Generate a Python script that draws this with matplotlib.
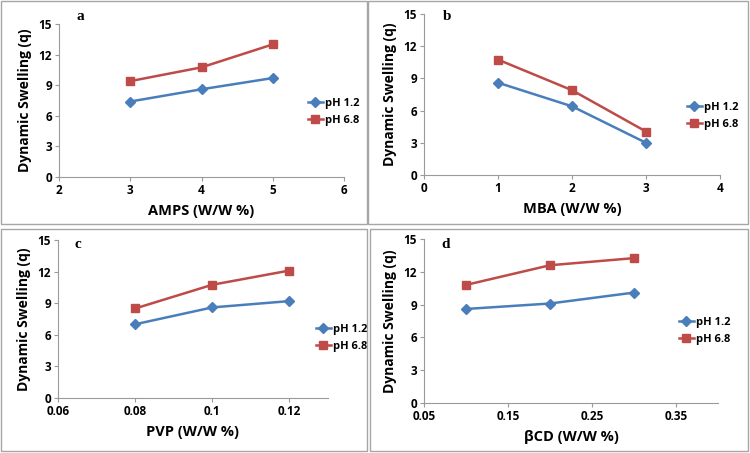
import matplotlib.pyplot as plt
from matplotlib.patches import Rectangle

# Data
amps = [3, 4, 5]
amps_ph12 = [7.4, 8.6, 9.7]
amps_ph68 = [9.4, 10.75, 13.0]

mba = [1, 2, 3]
mba_ph12 = [8.6, 6.4, 3.0]
mba_ph68 = [10.75, 7.9, 4.05]

pvp = [0.08, 0.1, 0.12]
pvp_ph12 = [7.0, 8.6, 9.2]
pvp_ph68 = [8.5, 10.75, 12.1]

bcd = [0.1, 0.2, 0.3]
bcd_ph12 = [8.6, 9.1, 10.1]
bcd_ph68 = [10.8, 12.6, 13.25]

W, H = 750, 453
BLUE = '#4A7EBB'
RED = '#BE4B48'

fig = plt.figure(figsize=(7.5, 4.53), dpi=100)
plt.rcParams['font.family'] = ['Open Sans', 'DejaVu Sans']


def frac_box(l, r, t, b):
    return [l / W, 1 - b / H, (r - l) / W, (b - t) / H]


# panel borders
for (x0, y0, x1, y1) in [(1, 1, 367, 224), (368, 1, 748, 224),
                         (1, 229, 367, 451), (370, 229, 748, 451)]:
    fig.patches.append(Rectangle((x0 / W, 1 - y1 / H), (x1 - x0) / W, (y1 - y0) / H,
                                 transform=fig.transFigure, fill=False,
                                 edgecolor='#a6a6a6', linewidth=1.0))

panels = [
    dict(box=(59, 344, 24, 177), x=amps, y1=amps_ph12, y2=amps_ph68, xlim=(2, 6),
         xticks=[2, 3, 4, 5, 6], xtl=['2', '3', '4', '5', '6'], xlabel='AMPS (W/W %)',
         letter='a', lpos=(80, 16), leg=(302, 112)),
    dict(box=(424, 720, 14, 175), x=mba, y1=mba_ph12, y2=mba_ph68, xlim=(0, 4),
         xticks=[0, 1, 2, 3, 4], xtl=['0', '1', '2', '3', '4'], xlabel='MBA (W/W %)',
         letter='b', lpos=(447, 17), leg=(681, 116)),
    dict(box=(58, 328, 240, 398), x=pvp, y1=pvp_ph12, y2=pvp_ph68, xlim=(0.06, 0.13),
         xticks=[0.06, 0.08, 0.1, 0.12], xtl=['0.06', '0.08', '0.1', '0.12'],
         xlabel='PVP (W/W %)', letter='c', lpos=(78, 245), leg=(310, 338)),
    dict(box=(424, 718, 239, 403), x=bcd, y1=bcd_ph12, y2=bcd_ph68, xlim=(0.05, 0.4),
         xticks=[0.05, 0.15, 0.25, 0.35], xtl=['0.05', '0.15', '0.25', '0.35'],
         xlabel='βCD (W/W %)', letter='d', lpos=(446, 244), leg=(673, 331)),
]

for p in panels:
    ax = fig.add_axes(frac_box(*p['box']))
    ax.plot(p['x'], p['y1'], color=BLUE, marker='D', markersize=5, linewidth=1.8, label='pH 1.2')
    ax.plot(p['x'], p['y2'], color=RED, marker='s', markersize=6, linewidth=1.8, label='pH 6.8')
    ax.set_xlim(*p['xlim'])
    ax.set_ylim(0, 15)
    ax.set_yticks([0, 3, 6, 9, 12, 15])
    ax.set_xticks(p['xticks'])
    ax.set_xticklabels(p['xtl'], fontweight='bold', fontsize=8.5)
    ax.set_yticklabels(['0', '3', '6', '9', '12', '15'], fontweight='bold', fontsize=8.5)
    for s in ['top', 'right']:
        ax.spines[s].set_visible(False)
    for s in ['left', 'bottom']:
        ax.spines[s].set_color('#9a9a9a')
        ax.spines[s].set_linewidth(0.8)
    ax.tick_params(length=3, color='#9a9a9a', pad=2)
    ax.set_xlabel(p['xlabel'], fontweight='bold', fontsize=10.5, labelpad=5)
    ax.set_ylabel('Dynamic Swelling (q)', fontweight='bold', fontsize=10, labelpad=5)
    ax.patch.set_alpha(0)
    fig.text(p['lpos'][0] / W, 1 - p['lpos'][1] / H, p['letter'], family='Liberation Serif',
             fontweight='bold', fontsize=11, ha='center', va='center')
    ax.legend(loc='center left', bbox_to_anchor=(p['leg'][0] / W, 1 - p['leg'][1] / H),
              bbox_transform=fig.transFigure, frameon=False, handlelength=1.4,
              handletextpad=0.15, labelspacing=0.55, borderpad=0,
              prop={'weight': 'bold', 'size': 8})

fig.savefig('out.png', dpi=100)
